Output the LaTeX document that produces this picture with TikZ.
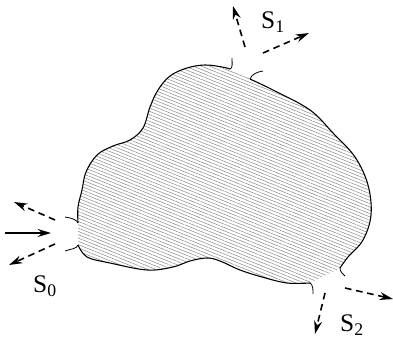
\documentclass[tikz,border=0pt]{standalone}
\usepackage{fontspec}
\setmainfont{Liberation Serif}
\usetikzlibrary{arrows.meta, patterns.meta}
\definecolor{hatchgray}{RGB}{140,140,140}

\begin{document}
\begin{tikzpicture}[
    x=0.75pt, y=-0.75pt,
    >={Stealth[length=10pt, width=6pt]},
    font=\fontsize{19}{22}\selectfont,
    region/.style  = {pattern={Lines[angle=-22, distance=2.3pt, line width=0.4pt]},
                      pattern color=hatchgray},
    outline/.style = {line width=0.8pt, black},
    hook/.style    = {line width=0.6pt, black},
    ray/.style     = {->, line width=1.2pt, dash pattern=on 5pt off 3.5pt},
    inray/.style   = {->, line width=1.2pt},
    lbl/.style     = {inner sep=1pt},
]
\useasboundingbox (0,0) rectangle (393,342);

% ---------------- hatched region ----------------
\fill[region] plot[smooth, tension=0.6] coordinates {(250,79) (275,91) (310,110) (333,133) (355,157) (368,185) (371,215) (363,240) (348,257) (340,268)}
    -- plot[smooth, tension=0.6] coordinates {(310,283) (287,283) (262,277) (240,270) (220,261) (207,258) (190,261) (173,267) (147,270) (110,263) (87,257) (78,245)}
    -- plot[smooth, tension=0.6] coordinates {(78,223) (78,207) (82,190) (86,172) (97,155) (113,146) (130,140) (143,128) (150,107) (158,90) (170,76) (187,68) (205,65) (222,67) (230,69)}
    -- cycle;

% ---------------- boundary ----------------
\draw[outline] plot[smooth, tension=0.6] coordinates {(250,79) (275,91) (310,110) (333,133) (355,157) (368,185) (371,215) (363,240) (348,257) (340,268)};
\draw[outline] plot[smooth, tension=0.6] coordinates {(310,283) (287,283) (262,277) (240,270) (220,261) (207,258) (190,261) (173,267) (147,270) (110,263) (87,257) (78,245)};
\draw[outline] plot[smooth, tension=0.6] coordinates {(78,223) (78,207) (82,190) (86,172) (97,155) (113,146) (130,140) (143,128) (150,107) (158,90) (170,76) (187,68) (205,65) (222,67) (230,69)};

% hooks at the openings
\draw[hook] (230,69) .. controls (233,68) and (232,63) .. (232,58);
\draw[hook] (250,79) .. controls (252,74) and (257,72) .. (263,71);
\draw[hook] (65,217) .. controls (72,218) and (77,220) .. (78,223);
\draw[hook] (78,245) .. controls (77,249) and (70,249) .. (65,251);
\draw[hook] (340,268) .. controls (340,272) and (343,274) .. (345,276);
\draw[hook] (310,283) .. controls (313,285) and (313,289) .. (313,294);

% ---------------- port S1 ----------------
\coordinate (s1a) at (245,47);
\coordinate (s1b) at (263,53);
\coordinate (s1up) at (233,6);
\coordinate (s1out) at (309,33);
\draw[ray] (s1a) -- (s1up);
\draw[ray] (s1b) -- (s1out);
\node[lbl] (s1) at (273,22) {S\textsubscript{1}};

% ---------------- port S0 ----------------
\coordinate (s0a) at (55,220);
\coordinate (s0b) at (55,244);
\coordinate (s0up) at (14,202);
\coordinate (s0dn) at (9,265);
\coordinate (s0in) at (5,233);
\coordinate (s0tip) at (51,233);
\draw[inray] (s0in) -- (s0tip);
\draw[ray] (s0a) -- (s0up);
\draw[ray] (s0b) -- (s0dn);
\node[lbl] (s0) at (45,286) {S\textsubscript{0}};

% ---------------- port S2 ----------------
\coordinate (s2a) at (345,288);
\coordinate (s2b) at (325,293);
\coordinate (s2out) at (393,299);
\coordinate (s2dn) at (315,334);
\draw[ray] (s2a) -- (s2out);
\draw[ray] (s2b) -- (s2dn);
\node[lbl] (s2) at (352,325) {S\textsubscript{2}};

\end{tikzpicture}
\end{document}
